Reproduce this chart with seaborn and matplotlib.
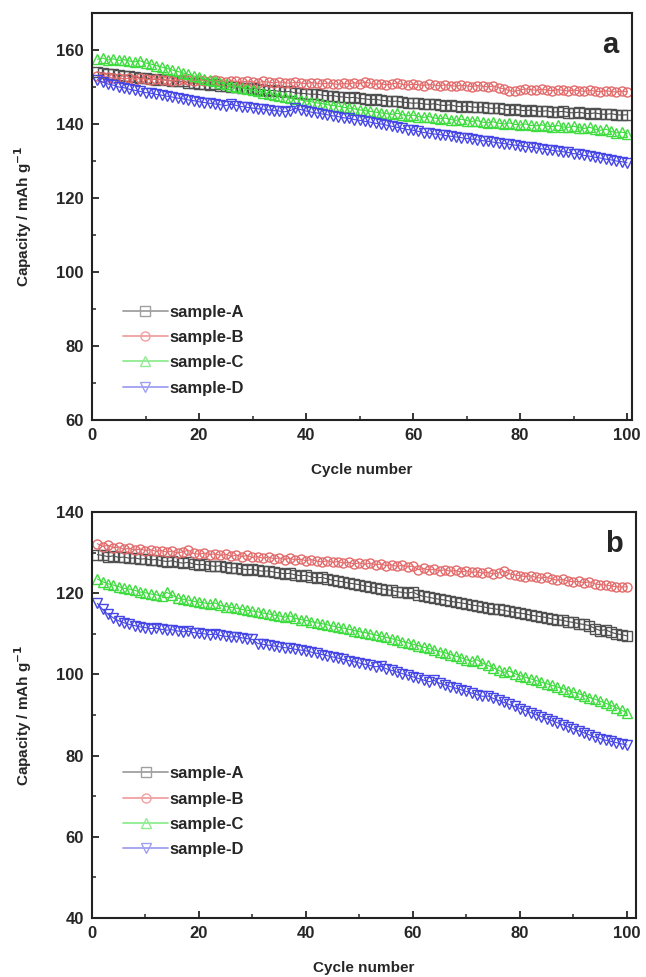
import numpy as np
import pandas as pd
import matplotlib
matplotlib.use("Agg")
import matplotlib.pyplot as plt
from matplotlib.lines import Line2D
from matplotlib.ticker import MultipleLocator
import seaborn as sns

cycles = list(range(1, 101))
samples = ["sample-A", "sample-B", "sample-C", "sample-D"]

# Panel a
a_A = [154.0,153.8,153.5,153.6,153.2,153.0,153.1,152.7,152.5,152.4,
       152.2,152.0,152.1,151.8,151.6,151.5,151.6,151.2,151.0,150.9,
       150.8,150.6,150.7,150.3,150.2,150.0,150.1,149.8,149.6,149.7,
       149.4,149.3,149.0,149.1,148.8,148.7,148.8,148.4,148.3,148.2,
       148.0,148.1,147.8,147.6,147.7,147.4,147.3,147.1,147.2,146.9,
       146.8,146.6,146.7,146.4,146.3,146.1,146.2,145.9,145.8,145.6,
       145.7,145.4,145.3,145.5,145.1,145.0,145.2,144.8,144.7,144.9,
       144.6,144.5,144.7,144.3,144.2,144.4,144.0,143.9,144.1,143.7,
       143.6,143.8,143.5,143.4,143.6,143.2,143.3,143.4,143.1,143.0,
       143.2,142.9,142.8,143.0,142.7,142.6,142.8,142.5,142.4,142.5]
a_B = [153.0,152.6,152.8,152.3,152.5,152.2,152.4,152.0,152.3,152.1,
       151.9,152.2,151.8,152.0,151.7,151.9,152.1,151.8,151.6,151.9,
       151.7,151.5,151.8,151.6,151.4,151.7,151.5,151.3,151.6,151.4,
       151.2,151.5,151.3,151.1,151.4,151.2,151.0,151.3,151.1,150.9,
       151.2,151.0,150.8,151.1,150.9,150.7,151.0,150.8,151.2,150.9,
       151.3,151.0,150.7,150.9,150.6,150.8,151.1,150.7,150.5,150.8,
       150.6,150.4,150.7,150.5,150.3,150.6,150.4,150.2,150.5,150.3,
       150.1,150.4,150.2,150.0,150.3,149.8,149.5,149.0,148.8,149.2,
       149.5,149.3,149.1,149.4,149.2,149.0,149.3,149.1,148.9,149.2,
       149.0,148.8,149.1,148.9,148.7,149.0,148.8,148.6,148.9,148.7]
a_C = [157.5,157.8,157.3,157.6,157.2,157.4,157.0,156.8,157.1,156.5,
       156.2,155.8,155.4,155.0,154.6,154.2,153.8,153.4,153.0,152.6,
       152.2,151.8,151.5,151.1,150.8,150.4,150.1,149.8,149.4,149.1,
       148.8,148.5,148.2,147.9,147.6,147.3,147.0,146.7,146.5,146.2,
       146.0,145.7,145.5,145.2,145.0,144.8,144.5,144.3,144.1,143.8,
       143.6,143.4,143.2,143.0,142.8,142.6,142.9,142.5,142.2,142.4,
       142.0,141.8,142.0,141.6,141.4,141.6,141.2,141.0,141.3,140.9,
       140.7,140.9,140.5,140.3,140.6,140.2,140.0,140.3,139.9,139.7,
       140.0,139.6,139.5,139.8,139.4,139.3,139.6,139.2,139.1,139.4,
       139.0,138.8,139.1,138.6,138.3,138.6,138.0,137.6,137.8,137.4]
a_D = [152.0,151.3,150.8,150.5,150.0,149.8,149.4,149.1,148.8,148.5,
       148.3,148.0,147.8,147.5,147.3,147.0,146.8,146.5,146.3,146.0,
       145.8,145.6,145.4,145.2,145.0,145.3,145.0,144.7,144.5,144.3,
       144.1,144.0,143.8,143.6,143.5,143.3,143.6,144.2,143.9,143.5,
       143.2,143.0,142.7,142.5,142.2,142.0,141.7,141.5,141.2,141.0,
       140.7,140.5,140.2,140.0,139.7,139.4,139.1,138.8,138.5,138.3,
       138.0,137.7,137.5,137.3,137.1,136.9,136.7,136.5,136.3,136.1,
       135.9,135.7,135.5,135.3,135.1,134.9,134.7,134.5,134.3,134.1,
       133.9,133.7,133.5,133.3,133.1,132.9,132.7,132.5,132.3,132.0,
       131.8,131.5,131.3,131.0,130.8,130.5,130.3,130.0,129.8,129.5]

# Panel b
b_A = [129.5,129.3,129.0,129.2,128.8,128.9,128.6,128.7,128.4,128.5,
       128.2,128.3,128.0,127.8,128.0,127.6,127.4,127.6,127.2,127.0,
       127.1,126.8,126.6,126.8,126.4,126.2,126.3,126.0,125.8,125.9,
       125.6,125.4,125.5,125.2,125.0,124.8,124.9,124.5,124.3,124.4,
       124.0,123.8,123.9,123.5,123.2,123.0,122.8,122.5,122.3,122.1,
       121.8,121.6,121.4,121.1,120.9,120.7,120.4,120.2,120.0,120.3,
       119.6,119.2,119.0,118.7,118.5,118.3,118.0,117.8,117.6,117.4,
       117.1,116.9,116.7,116.4,116.2,116.0,115.8,115.5,115.3,115.1,
       114.9,114.6,114.4,114.2,114.0,113.7,113.5,113.3,113.0,112.8,
       112.5,112.3,112.0,111.3,110.8,111.0,110.4,110.0,109.8,109.5]
b_B = [132.2,131.5,131.8,131.2,131.4,130.8,131.1,130.6,130.9,130.5,
       130.7,130.3,130.5,130.1,130.4,129.9,130.2,130.6,129.8,129.6,
       129.9,129.5,129.7,129.3,129.6,129.1,129.4,129.0,129.3,128.8,
       129.0,128.6,128.9,128.5,128.7,128.3,128.6,128.2,128.4,128.0,
       128.3,127.9,127.7,128.0,127.6,127.8,127.4,127.6,127.2,127.5,
       127.1,127.4,127.0,127.2,126.8,127.0,126.6,126.9,126.5,126.7,
       125.8,126.1,125.7,125.9,125.5,125.8,125.4,125.6,125.2,125.5,
       125.1,125.3,124.9,125.2,124.7,125.0,125.4,124.8,124.5,124.3,
       124.1,124.3,123.9,123.7,124.0,123.5,123.2,123.4,123.0,122.8,
       122.9,122.6,122.8,122.3,122.1,122.0,121.8,121.6,121.5,121.6]
b_C = [123.5,122.8,122.3,122.0,121.6,121.2,121.0,120.7,120.3,120.1,
       119.8,119.6,119.3,120.2,119.5,118.8,118.5,118.3,118.0,117.8,
       117.6,117.4,117.6,117.0,116.7,116.5,116.3,116.0,115.8,115.6,
       115.4,115.1,114.9,114.6,114.4,114.1,114.4,113.8,113.5,113.3,
       113.0,112.7,112.5,112.2,111.9,111.6,111.4,111.1,110.8,110.5,
       110.3,110.0,109.7,109.4,109.1,108.8,108.5,108.1,107.8,107.4,
       107.1,106.7,106.4,106.0,105.6,105.3,104.9,104.5,104.1,103.6,
       103.2,103.6,102.8,102.2,101.6,101.0,100.5,100.8,100.2,99.7,
       99.3,98.9,98.5,98.1,97.7,97.3,96.9,96.5,96.0,95.6,
       95.2,94.8,94.3,93.9,93.4,92.9,92.4,91.8,91.2,90.5]
b_D = [117.5,116.0,114.8,113.9,113.2,112.7,112.3,112.0,111.7,111.5,
       111.3,111.4,111.1,110.9,111.0,110.7,110.5,110.6,110.3,110.1,
       110.0,109.8,109.9,109.6,109.4,109.2,109.3,109.0,108.8,108.6,
       107.6,107.4,107.2,107.0,106.8,106.6,106.4,106.2,106.0,105.8,
       105.5,105.2,104.9,104.6,104.3,104.0,103.7,103.4,103.1,102.8,
       102.5,102.2,101.9,102.0,101.4,101.0,100.6,100.2,99.8,99.4,
       99.0,98.6,98.2,98.5,97.8,97.4,97.0,96.6,96.2,95.8,
       95.4,95.0,94.6,94.7,94.1,93.6,93.1,92.6,92.1,91.6,
       91.1,90.6,90.1,89.6,89.1,88.6,88.1,87.6,87.1,86.6,
       86.1,85.6,85.1,84.6,84.2,83.8,83.5,83.2,82.9,82.6]

colors = ["#505050", "#e36a6a", "#3fdc3f", "#4646e6"]
legend_colors = ["#a0a0a0", "#f0a0a0", "#90ec90", "#a0a0f0"]
markers = ["s", "o", "^", "v"]

sns.set_style("ticks")
plt.rcParams["font.family"] = ["Liberation Sans", "DejaVu Sans"]
plt.rcParams["font.weight"] = "bold"

fig = plt.figure(figsize=(6.46, 9.77), dpi=100)
W, H = 646, 977
ax_a = fig.add_axes([92 / W, 1 - 420 / H, (632 - 92) / W, (420 - 13) / H])
ax_b = fig.add_axes([92 / W, 1 - 918 / H, (636 - 92) / W, (918 - 512) / H])

panels = [
    (ax_a, [a_A, a_B, a_C, a_D], (60, 170), (0, 100.9), "a", 0.30),
    (ax_b, [b_A, b_B, b_C, b_D], (40, 140), (0, 101.7), "b", 0.39),
]

for ax, series, ylim, xlim, letter, leg_y in panels:
    rows = []
    for name, vals in zip(samples, series):
        for c, v in zip(cycles, vals):
            rows.append((name, c, v))
    df = pd.DataFrame(rows, columns=["sample", "cycle", "capacity"])
    for i, name in enumerate(samples):
        sub = df[df["sample"] == name]
        sns.lineplot(data=sub, x="cycle", y="capacity", ax=ax, color=colors[i],
                     marker=markers[i], markersize=6.5, markerfacecolor="none",
                     markeredgecolor=colors[i], markeredgewidth=1.0,
                     linewidth=0.8, legend=False)
    ax.set_xlim(*xlim)
    ax.set_ylim(*ylim)
    ax.xaxis.set_major_locator(MultipleLocator(20))
    ax.xaxis.set_minor_locator(MultipleLocator(10))
    ax.yaxis.set_major_locator(MultipleLocator(20))
    ax.yaxis.set_minor_locator(MultipleLocator(10))
    ax.tick_params(which="major", direction="in", length=5, width=1.3,
                   labelsize=12, pad=6, top=False, right=False)
    ax.tick_params(which="minor", direction="in", length=3, width=1.1,
                   top=False, right=False)
    for lab in ax.get_xticklabels() + ax.get_yticklabels():
        lab.set_fontweight("bold")
    for sp in ax.spines.values():
        sp.set_visible(True)
        sp.set_linewidth(1.5)
        sp.set_color("#222222")
    ax.set_xlabel("Cycle number", fontsize=11, fontweight="bold", labelpad=14)
    ax.set_ylabel("Capacity / mAh g$^{\\mathbf{-1}}$", fontsize=11, fontweight="bold", labelpad=16)
    ax.text(0.975, 0.955, letter, transform=ax.transAxes, ha="right", va="top",
            fontsize=21, fontweight="bold")
    handles = [Line2D([0], [0], color=legend_colors[i], linewidth=1.3,
                      marker=markers[i], markersize=6.5, markerfacecolor="none",
                      markeredgecolor=legend_colors[i], markeredgewidth=1.0)
               for i in range(4)]
    leg = ax.legend(handles, samples, loc="upper left", bbox_to_anchor=(0.045, leg_y),
                    frameon=False, fontsize=12, handlelength=2.7, handletextpad=0.1,
                    labelspacing=0.62, borderaxespad=0)
    for t in leg.get_texts():
        t.set_fontweight("bold")

fig.savefig("out.png", dpi=100)
